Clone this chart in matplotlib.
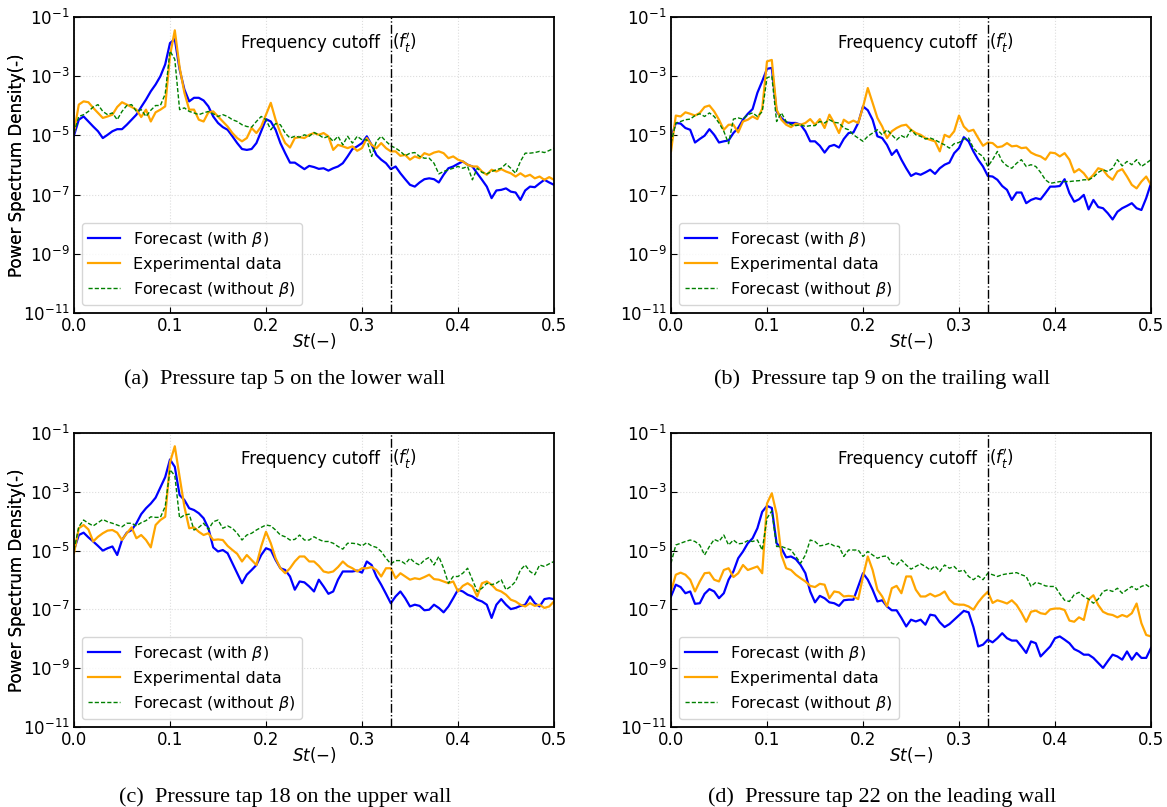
import numpy as np
import matplotlib
matplotlib.use("Agg")
import matplotlib.pyplot as plt
from matplotlib.ticker import FixedLocator, NullLocator, FixedFormatter

# ---------------- data (log10 of PSD) ----------------
st = np.linspace(0.0, 0.5, 101)

a_blue = [-5.0, -4.47, -4.36, -4.53, -4.70, -4.86, -5.09, -4.98, -4.86, -4.79,
          -4.79, -4.64, -4.47, -4.30, -4.04, -3.79, -3.51, -3.28, -3.0, -2.60,
          -1.88, -1.75, -2.77, -3.45, -3.85, -3.73, -3.73, -3.82, -4.02, -4.36,
          -4.58, -4.72, -4.81, -5.03, -5.26, -5.46, -5.49, -5.46, -5.26, -4.86,
          -4.45, -4.53, -4.81, -5.26, -5.60, -5.92, -5.92, -6.03, -6.14, -6.03,
          -6.07, -6.13, -6.11, -6.19, -6.11, -6.05, -5.94, -5.71, -5.46, -5.37,
          -5.26, -5.03, -5.32, -5.66, -5.82, -5.94, -6.14, -6.05, -6.28, -6.48,
          -6.67, -6.73, -6.59, -6.48, -6.45, -6.48, -6.59, -6.33, -6.11, -6.05,
          -5.96, -5.88, -5.99, -6.05, -6.28, -6.50, -6.73, -7.12, -6.86, -6.84,
          -6.79, -6.90, -6.93, -7.18, -6.86, -6.73, -6.75, -6.62, -6.50, -6.59,
          -6.67]
a_orange = [-4.9, -3.96, -3.85, -3.88, -4.07, -4.24, -4.41, -4.36, -4.30, -4.04,
            -3.88, -3.96, -4.04, -4.13, -4.38, -4.13, -4.53, -4.22, -4.13, -4.02,
            -2.30, -1.45, -2.70, -3.56, -4.13, -4.13, -4.47, -4.53, -4.22, -4.19,
            -4.36, -4.53, -4.70, -4.92, -5.09, -5.20, -5.09, -4.75, -4.92, -4.70,
            -4.30, -3.90, -4.47, -4.92, -5.26, -5.41, -5.09, -5.06, -5.09, -4.98,
            -4.92, -4.98, -4.92, -5.03, -5.49, -5.32, -5.37, -5.43, -5.37, -5.52,
            -5.43, -5.09, -5.32, -5.43, -5.26, -5.43, -5.54, -5.54, -5.69, -5.66,
            -5.82, -5.71, -5.77, -5.60, -5.66, -5.58, -5.54, -5.60, -5.77, -5.71,
            -5.82, -5.88, -5.99, -6.05, -6.05, -6.22, -6.33, -6.16, -6.22, -6.14,
            -6.22, -6.28, -6.39, -6.28, -6.39, -6.33, -6.45, -6.39, -6.50, -6.41,
            -6.50]
a_green = [-4.92, -4.36, -4.30, -4.19, -4.04, -3.96, -4.19, -4.30, -4.24, -4.47,
           -4.19, -3.99, -3.96, -4.19, -4.13, -4.36, -4.15, -3.99, -3.99, -3.60,
           -2.15, -2.43, -4.13, -4.07, -4.19, -4.24, -4.30, -4.24, -4.19, -4.27,
           -4.36, -4.30, -4.36, -4.47, -4.53, -4.64, -4.70, -4.72, -4.53, -4.36,
           -4.47, -4.81, -4.60, -4.64, -4.92, -5.09, -5.03, -5.06, -4.98, -5.03,
           -4.90, -4.98, -5.09, -5.03, -5.20, -5.03, -5.32, -5.03, -5.26, -5.03,
           -5.15, -5.15, -5.71, -5.20, -5.03, -5.20, -5.35, -5.43, -5.54, -5.69,
           -5.60, -5.58, -5.71, -5.77, -5.77, -5.94, -6.30, -6.22, -6.16, -6.11,
           -6.05, -6.11, -6.05, -6.50, -6.11, -6.25, -6.30, -6.22, -6.16, -6.11,
           -5.96, -6.11, -6.28, -5.88, -5.60, -5.60, -5.58, -5.54, -5.58, -5.51,
           -5.43]

b_blue = [-5.1, -4.58, -4.60, -4.75, -4.81, -5.24, -5.12, -5.01, -4.79, -4.98,
          -5.24, -5.20, -5.17, -4.92, -4.75, -4.47, -4.27, -4.11, -3.56, -3.17,
          -2.75, -2.72, -4.19, -4.41, -4.56, -4.58, -4.58, -4.64, -4.86, -5.20,
          -5.20, -5.35, -5.58, -5.37, -5.32, -5.41, -5.12, -4.92, -4.90, -4.58,
          -4.02, -4.15, -4.47, -5.03, -5.09, -5.32, -5.66, -5.49, -5.82, -6.11,
          -6.37, -6.28, -6.33, -6.25, -6.16, -6.30, -6.11, -5.99, -5.92, -5.60,
          -5.43, -5.06, -5.20, -5.54, -5.82, -6.05, -6.37, -6.39, -6.50, -6.71,
          -6.84, -7.18, -6.93, -6.93, -7.29, -7.18, -7.12, -7.16, -6.95, -6.73,
          -6.73, -6.71, -6.48, -6.95, -7.24, -7.16, -7.01, -7.50, -7.18, -7.42,
          -7.46, -7.63, -7.84, -7.58, -7.46, -7.38, -7.29, -7.46, -7.52, -7.12,
          -6.62]
b_orange = [-5.54, -4.33, -4.36, -4.22, -4.27, -4.33, -4.24, -4.04, -3.99, -4.19,
            -4.47, -4.81, -4.64, -4.64, -4.90, -4.53, -4.47, -4.36, -4.45, -4.10,
            -2.50, -2.45, -4.13, -4.47, -4.64, -4.72, -4.60, -4.64, -4.58, -4.45,
            -4.64, -4.45, -4.75, -4.30, -4.58, -4.92, -4.47, -4.58, -4.50, -4.58,
            -4.04, -3.40, -3.90, -4.41, -4.70, -5.09, -4.86, -4.75, -4.67, -4.64,
            -4.81, -4.92, -4.98, -5.09, -5.15, -5.20, -5.54, -4.98, -5.06, -4.86,
            -4.33, -4.70, -4.86, -4.81, -5.09, -5.35, -5.24, -5.26, -5.40, -5.37,
            -5.26, -5.37, -5.35, -5.43, -5.41, -5.58, -5.66, -5.71, -5.82, -5.58,
            -5.60, -5.71, -5.60, -5.82, -6.25, -6.14, -6.28, -6.50, -6.33, -6.11,
            -6.16, -6.37, -6.50, -6.22, -6.14, -6.39, -6.67, -6.79, -6.56, -6.39,
            -6.67]
b_green = [-5.26, -4.58, -4.53, -4.47, -4.45, -4.33, -4.27, -4.36, -4.24, -4.36,
           -4.58, -4.86, -5.28, -4.45, -4.41, -4.45, -4.30, -4.24, -4.36, -4.20,
           -3.05, -3.00, -4.53, -4.24, -4.53, -4.64, -4.67, -4.64, -4.70, -4.67,
           -4.67, -4.53, -4.58, -4.47, -4.56, -4.58, -4.75, -4.81, -4.98, -5.09,
           -5.20, -5.03, -4.92, -4.81, -4.98, -4.81, -4.98, -5.15, -5.01, -5.09,
           -4.81, -4.98, -5.03, -5.12, -5.09, -5.15, -5.24, -5.32, -5.43, -5.28,
           -5.24, -5.12, -5.09, -5.43, -5.60, -5.71, -6.05, -5.82, -5.54, -5.88,
           -6.03, -6.11, -5.94, -5.82, -6.05, -5.99, -6.05, -6.25, -6.50, -6.62,
           -6.59, -6.56, -6.56, -6.56, -6.54, -6.53, -6.50, -6.50, -6.41, -6.25,
           -6.16, -6.22, -6.11, -5.82, -6.03, -5.88, -5.99, -5.82, -6.05, -5.94,
           -5.82]

c_blue = [-4.98, -4.47, -4.39, -4.55, -4.69, -4.84, -5.0, -4.92, -4.86, -5.15,
          -4.64, -4.39, -4.30, -4.07, -3.76, -3.56, -3.40, -3.20, -2.85, -2.50,
          -1.90, -2.15, -3.11, -3.28, -3.56, -3.62, -3.73, -3.90, -4.24, -4.89,
          -5.03, -4.98, -5.09, -5.43, -5.77, -6.11, -5.82, -5.66, -5.49, -5.15,
          -4.92, -4.98, -5.32, -5.60, -5.66, -5.88, -6.33, -6.05, -6.08, -6.22,
          -6.39, -5.99, -6.22, -6.47, -6.39, -5.99, -5.71, -5.71, -5.71, -5.68,
          -5.75, -5.37, -5.49, -5.88, -6.16, -6.47, -6.79, -6.56, -6.39, -6.62,
          -6.90, -6.84, -6.88, -7.03, -7.01, -6.84, -6.95, -7.10, -6.90, -6.62,
          -6.33, -6.39, -6.50, -6.56, -6.67, -6.73, -6.84, -7.29, -6.84, -6.65,
          -6.84, -6.99, -6.95, -6.88, -6.84, -6.56, -6.79, -6.90, -6.65, -6.62,
          -6.65]
c_orange = [-5.09, -4.24, -4.13, -4.28, -4.69, -4.53, -4.41, -4.32, -4.30, -4.39,
            -4.64, -4.41, -4.21, -4.58, -4.47, -4.64, -4.89, -4.13, -3.96, -3.85,
            -2.00, -1.45, -2.49, -3.51, -4.24, -4.21, -4.36, -4.47, -4.41, -4.64,
            -4.62, -4.64, -4.84, -4.98, -5.11, -5.37, -5.15, -5.32, -5.49, -4.86,
            -4.36, -4.75, -5.26, -5.60, -5.77, -5.60, -5.37, -5.20, -5.20, -5.37,
            -5.37, -5.52, -5.71, -5.75, -5.71, -5.56, -5.37, -5.52, -5.60, -5.71,
            -5.60, -5.60, -5.56, -5.66, -5.88, -5.60, -5.60, -5.94, -5.77, -5.88,
            -5.99, -5.94, -5.97, -5.90, -5.82, -5.97, -5.99, -6.05, -6.11, -6.05,
            -6.39, -6.20, -6.11, -6.22, -6.56, -6.11, -6.05, -6.16, -6.33, -6.39,
            -6.50, -6.67, -6.73, -6.84, -6.90, -6.79, -6.88, -6.84, -6.95, -6.90,
            -6.73]
c_green = [-4.98, -4.19, -3.96, -4.07, -4.16, -4.05, -3.94, -4.02, -4.07, -4.13,
           -4.19, -4.07, -4.07, -4.16, -4.05, -3.98, -3.85, -3.87, -3.87, -3.50,
           -2.25, -2.45, -3.90, -3.79, -3.76, -4.30, -4.21, -4.07, -4.28, -4.02,
           -3.96, -4.24, -4.16, -4.24, -4.41, -4.64, -4.47, -4.41, -4.30, -4.21,
           -4.13, -4.16, -4.30, -4.47, -4.53, -4.64, -4.62, -4.47, -4.64, -4.64,
           -4.53, -4.62, -4.69, -4.69, -4.75, -4.86, -4.95, -4.75, -4.75, -4.77,
           -4.84, -4.73, -4.84, -4.89, -5.03, -5.26, -5.45, -5.34, -5.34, -5.45,
           -5.26, -5.41, -5.49, -5.32, -5.23, -5.49, -5.20, -5.60, -6.11, -5.88,
           -5.88, -5.77, -5.60, -5.99, -6.39, -6.28, -6.11, -6.16, -6.11, -5.99,
           -6.33, -6.22, -6.05, -5.66, -5.49, -5.71, -5.82, -5.49, -5.54, -5.45,
           -5.37]

d_blue = [-6.56, -6.16, -6.24, -6.45, -6.39, -6.81, -6.79, -6.47, -6.31, -6.39,
          -6.62, -6.45, -5.99, -5.71, -5.26, -5.03, -4.75, -4.58, -4.24, -3.68,
          -3.48, -3.55, -4.75, -4.92, -5.23, -5.20, -5.29, -5.49, -5.77, -6.39,
          -6.76, -6.54, -6.62, -6.76, -6.79, -6.88, -6.69, -6.67, -6.67, -6.22,
          -5.77, -5.99, -6.33, -6.73, -6.69, -6.90, -7.03, -7.03, -7.29, -7.58,
          -7.35, -7.41, -7.35, -7.52, -7.18, -7.21, -7.44, -7.60, -7.50, -7.35,
          -7.20, -7.05, -7.10, -7.60, -8.26, -8.20, -8.03, -8.12, -7.98, -7.81,
          -7.98, -8.06, -8.06, -8.26, -8.48, -8.09, -8.15, -8.60, -8.43, -8.26,
          -7.98, -7.92, -8.03, -8.15, -8.35, -8.43, -8.54, -8.54, -8.65, -8.82,
          -8.99, -8.76, -8.54, -8.60, -8.71, -8.43, -8.71, -8.48, -8.65, -8.65,
          -8.31]
d_orange = [-6.39, -5.82, -5.75, -5.82, -5.99, -6.39, -6.05, -5.77, -5.75, -5.99,
            -6.05, -5.66, -5.60, -5.90, -5.77, -5.49, -5.66, -5.60, -5.54, -5.77,
            -3.40, -3.05, -3.75, -5.15, -5.60, -5.66, -5.82, -5.94, -6.05, -6.20,
            -6.24, -6.13, -6.16, -6.62, -6.39, -6.42, -6.56, -6.54, -6.56, -6.65,
            -5.88, -5.20, -5.66, -6.33, -6.56, -6.90, -6.28, -6.20, -6.45, -5.88,
            -5.88, -6.33, -6.56, -6.56, -6.47, -6.56, -6.50, -6.39, -6.67, -6.81,
            -6.84, -6.84, -6.90, -7.01, -6.76, -6.56, -6.40, -6.78, -6.69, -6.74,
            -6.80, -6.69, -6.85, -7.11, -7.42, -7.08, -7.04, -7.13, -7.16, -7.00,
            -6.97, -6.97, -7.02, -7.38, -7.42, -7.27, -7.36, -6.66, -6.52, -6.85,
            -7.08, -7.16, -7.19, -7.27, -7.19, -7.25, -7.13, -6.80, -7.47, -7.87,
            -7.92]
d_green = [-5.43, -4.81, -4.75, -4.69, -4.64, -4.69, -4.81, -5.15, -4.86, -4.62,
           -4.69, -4.47, -4.81, -4.64, -4.77, -4.75, -4.66, -4.69, -4.64, -4.98,
           -3.90, -3.65, -4.86, -4.86, -4.92, -4.98, -5.20, -5.43, -5.15, -4.64,
           -4.69, -4.84, -4.81, -4.75, -4.84, -4.86, -5.20, -4.98, -4.98, -4.98,
           -5.20, -5.03, -5.15, -5.26, -5.20, -5.18, -5.43, -5.49, -5.32, -5.49,
           -5.63, -5.54, -5.45, -5.54, -5.66, -5.52, -5.71, -5.49, -5.60, -5.54,
           -5.71, -5.66, -5.88, -5.99, -5.86, -5.99, -5.77, -5.82, -5.88, -5.82,
           -5.79, -5.77, -5.75, -5.82, -5.88, -6.22, -6.08, -6.13, -6.20, -6.22,
           -6.22, -6.47, -6.69, -6.73, -6.50, -6.42, -6.56, -6.65, -6.79, -6.65,
           -6.39, -6.33, -6.39, -6.28, -6.45, -6.33, -6.22, -6.33, -6.22, -6.16,
           -6.28]

captions = ["(a)  Pressure tap 5 on the lower wall",
            "(b)  Pressure tap 9 on the trailing wall",
            "(c)  Pressure tap 18 on the upper wall",
            "(d)  Pressure tap 22 on the leading wall"]
series_names = ["Forecast (with $\\beta$)", "Experimental data",
                "Forecast (without $\\beta$)"]
x_ticks = [0.0, 0.1, 0.2, 0.3, 0.4, 0.5]
y_exps = [-11, -9, -7, -5, -3, -1]
cutoff = 0.33

panels = [(a_blue, a_orange, a_green), (b_blue, b_orange, b_green),
          (c_blue, c_orange, c_green), (d_blue, d_orange, d_green)]

# ---------------- figure ----------------
plt.rcParams['font.family'] = ['DejaVu Sans']
plt.rcParams['mathtext.fontset'] = 'dejavusans'
fig = plt.figure(figsize=(11.67, 8.07), dpi=100)

W, H = 1167.0, 807.0
boxes = [(74, 17, 554, 313), (671, 17, 1151, 313),
         (74, 433, 554, 727), (671, 433, 1151, 727)]
cap_pos = [(0.244, 1 - 379 / H), (0.756, 1 - 379 / H),
           (0.244, 1 - 797 / H), (0.756, 1 - 797 / H)]

for i, (blue, orange, green) in enumerate(panels):
    l, t, r, b = boxes[i]
    ax = fig.add_axes([l / W, 1 - b / H, (r - l) / W, (b - t) / H])
    ax.plot(st, 10.0 ** np.array(blue), color='blue', lw=1.6, label=series_names[0])
    ax.plot(st, 10.0 ** np.array(orange), color='orange', lw=1.6, label=series_names[1])
    ax.plot(st, 10.0 ** np.array(green), color='green', lw=1.0, ls='--',
            dashes=(3, 1.5), label=series_names[2])
    ax.axvline(cutoff, color='black', lw=1.0, ls='-.')
    ax.text(0.319, 10 ** -1.87, "Frequency cutoff",
            fontsize=12, va='center', ha='right')
    ax.text(0.3315, 10 ** -1.87, "$(f_t^{\\prime})$",
            fontsize=12, va='center', ha='left')
    ax.set_yscale('log')
    ax.set_xlim(0, 0.5)
    ax.set_ylim(1e-11, 1e-1)
    ax.xaxis.set_major_locator(FixedLocator(x_ticks))
    ax.xaxis.set_major_formatter(FixedFormatter(["%.1f" % v for v in x_ticks]))
    ax.yaxis.set_major_locator(FixedLocator([10.0 ** e for e in y_exps]))
    ax.yaxis.set_major_formatter(FixedFormatter(["$10^{%d}$" % e for e in y_exps]))
    ax.yaxis.set_minor_locator(NullLocator())
    ax.xaxis.set_minor_locator(NullLocator())
    ax.tick_params(direction='in', labelsize=12, length=4, pad=3)
    ax.grid(True, color='#dddddd', ls=':', lw=0.8)
    for s in ax.spines.values():
        s.set_linewidth(1.3)
    ax.set_xlabel("$St(-)$", fontsize=12)
    ax.xaxis.set_label_coords(0.5, -28.0 / (b - t), transform=ax.transAxes)
    ax.xaxis.label.set_va('center')
    ax.set_ylabel("Power Spectrum Density(-)", fontsize=12)
    ax.yaxis.set_label_coords((17 - l) / (r - l), 0.5, transform=ax.transAxes)
    ax.yaxis.label.set_va('center')
    ax.legend(loc='lower left', fontsize=11.5, borderpad=0.4)
    fig.text(cap_pos[i][0], cap_pos[i][1], captions[i], ha='center', va='center',
             fontsize=16, family=['Liberation Serif', 'DejaVu Serif'])

fig.savefig("out.png", dpi=100)
